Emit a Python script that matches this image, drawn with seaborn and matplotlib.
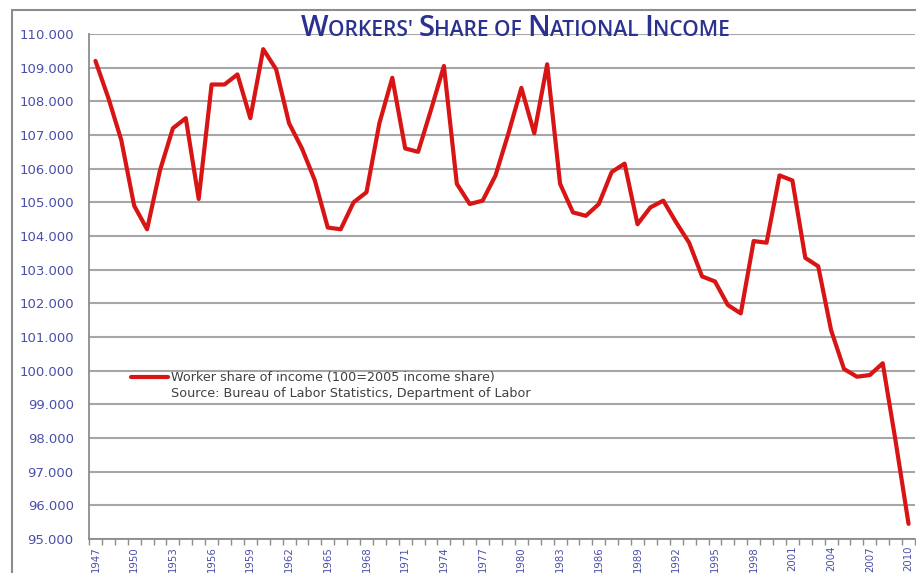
import numpy as np
import pandas as pd
import seaborn as sns
import matplotlib.pyplot as plt
from matplotlib.lines import Line2D
from matplotlib.offsetbox import TextArea, HPacker, AnnotationBbox

# data (index, 100 = 2005 income share)
years = list(range(1947, 2011))
share = [109.2, 108.1, 106.85, 104.9, 104.2, 105.95, 107.2, 107.5, 105.1, 108.5,
         108.5, 108.8, 107.5, 109.55, 108.95, 107.35, 106.6, 105.65, 104.25, 104.2,
         105.0, 105.3, 107.35, 108.7, 106.6, 106.5, 107.75, 109.05, 105.55, 104.95,
         105.05, 105.8, 107.05, 108.4, 107.05, 109.1, 105.55, 104.7, 104.6, 104.95,
         105.9, 106.15, 104.35, 104.85, 105.05, 104.4, 103.8, 102.8, 102.65, 101.95,
         101.7, 103.85, 103.8, 105.8, 105.65, 103.35, 103.1, 101.2, 100.05, 99.82,
         99.87, 100.22, 97.9, 95.45]
tick_years = list(range(1947, 2011, 3))

df = pd.DataFrame({'year': years, 'share': share})

blue = '#4a4fa8'
grid_col = '#a6a6a6'
red = '#d81414'

sns.set_style('white')
plt.rcParams['font.family'] = ['DejaVu Sans']

fig = plt.figure(figsize=(9.16, 5.73), dpi=100)
ax = fig.add_axes([89/916, 34/573, 826/916, 505/573])

sns.lineplot(data=df, x='year', y='share', ax=ax, color=red, lw=3,
             label='Worker share of income (100=2005 income share)')

ax.set_xlim(1946.5, 2010.5)
ax.set_ylim(95, 110)
ax.set_yticks(np.arange(95, 110.5, 1))
ax.set_yticklabels(['%.3f' % v for v in np.arange(95, 110.5, 1)])
ax.set_xticks(tick_years)
ax.set_xticklabels([str(y) for y in tick_years], rotation=90)
ax.set_xticks(np.arange(1946.5, 2011, 1), minor=True)
ax.set_xlabel('')
ax.set_ylabel('')

ax.grid(axis='y', color=grid_col, lw=1.5)
ax.set_axisbelow(True)
for s in ['top', 'right']:
    ax.spines[s].set_visible(False)
for s in ['left', 'bottom']:
    ax.spines[s].set_color('#8c8c8c')
    ax.spines[s].set_linewidth(1.3)

ax.tick_params(axis='y', which='major', direction='out', length=4, width=1,
               color='#8c8c8c', labelcolor=blue, labelsize=9.5, pad=7)
ax.tick_params(axis='x', which='major', direction='out', length=0,
               labelcolor=blue, labelsize=7.3, pad=5)
ax.tick_params(axis='x', which='minor', direction='out', length=4, width=1,
               color='#8c8c8c', bottom=True)

# legend: line + source line
h, l = ax.get_legend_handles_labels()
src = Line2D([], [], color='none')
ax.legend([h[0], src], [l[0], 'Source: Bureau of Labor Statistics, Department of Labor'],
          loc='upper left', bbox_to_anchor=(131/916, 1 - 371/573),
          bbox_transform=fig.transFigure, frameon=False, fontsize=9.2,
          handlelength=2.9, handletextpad=0.25, labelspacing=0.2,
          borderpad=0, borderaxespad=0, labelcolor='#404040')

# title in small caps
big, small = 21, 15
runs = [("W", big), ("ORKERS' ", small), ("S", big), ("HARE OF ", small),
        ("N", big), ("ATIONAL ", small), ("I", big), ("NCOME", small)]
parts = [TextArea(t, textprops=dict(size=s, color='#2b3190', family='Open Sans',
                                     weight='semibold')) for t, s in runs]
pack = HPacker(children=parts, align='baseline', pad=0, sep=0)
fig.add_artist(AnnotationBbox(pack, (515/916, 1 - 28/573), xycoords='figure fraction',
                              frameon=False, box_alignment=(0.5, 0.5)))

# chart area border (top and left edge)
fig.add_artist(Line2D([12/916, 12/916], [0, 1 - 10/573], transform=fig.transFigure,
                      color='#8c8c8c', lw=1.5))
fig.add_artist(Line2D([12/916, 1], [1 - 10/573, 1 - 10/573], transform=fig.transFigure,
                      color='#8c8c8c', lw=1.5))

fig.savefig('out.png', dpi=100)
